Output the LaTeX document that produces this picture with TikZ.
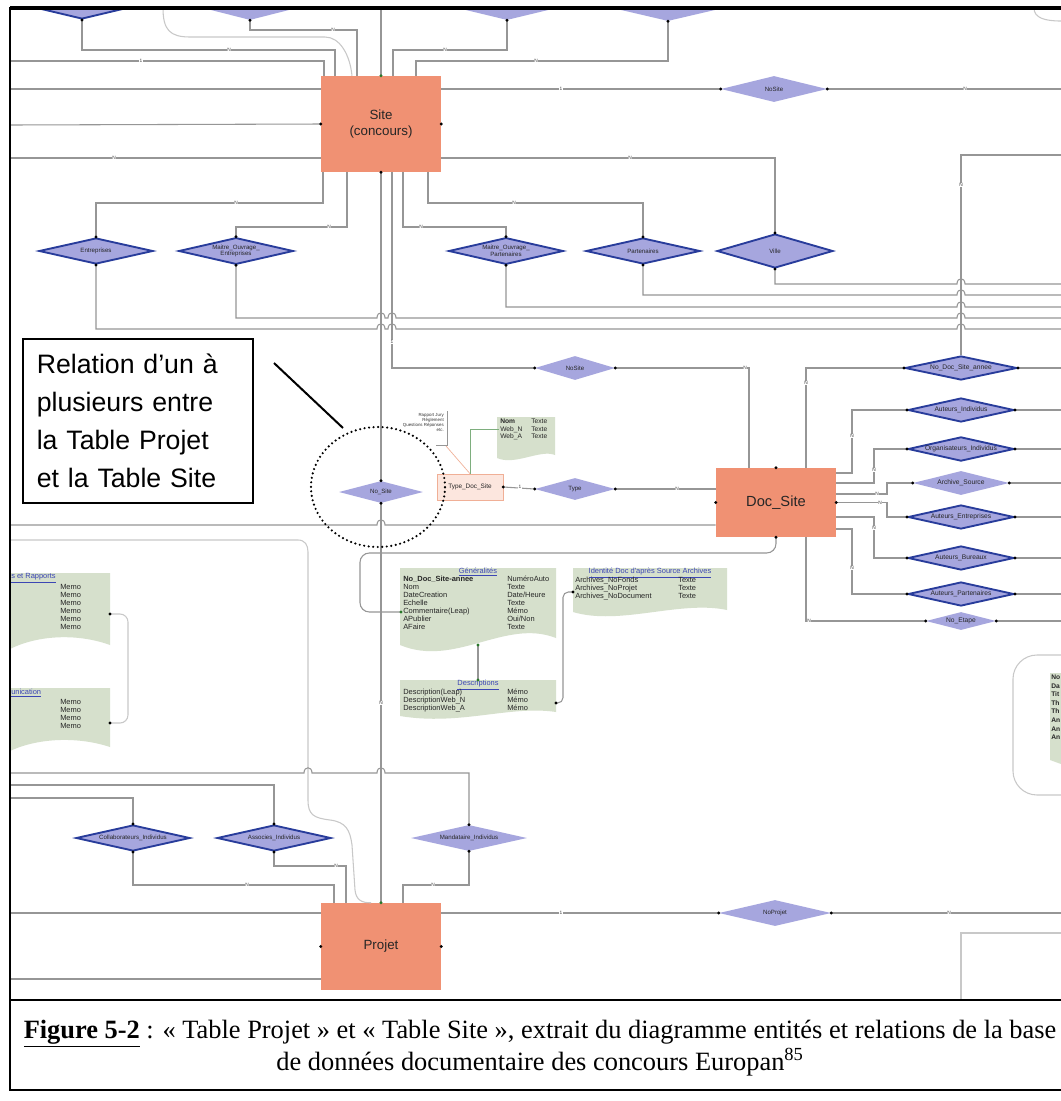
\documentclass[tikz,border=0pt]{standalone}
\usepackage{fontspec}
\usepackage{graphicx}
\setmainfont{Liberation Serif}
\newfontfamily\dsans{Liberation Sans}
\usetikzlibrary{shapes.geometric}
\definecolor{ent}{RGB}{240,145,115}
\definecolor{lav}{RGB}{166,166,222}
\definecolor{dkb}{RGB}{40,60,155}
\definecolor{tabc}{RGB}{214,224,204}
\definecolor{lnc}{RGB}{150,150,150}
\definecolor{grpc}{RGB}{200,200,200}
\definecolor{ttlc}{RGB}{60,70,180}
\definecolor{pinkf}{RGB}{252,230,222}
\definecolor{pinkd}{RGB}{240,175,150}
\definecolor{gdot}{RGB}{40,120,40}
\newcommand\dotat[1]{\fill[black] (#1) circle (1.2pt);}
\newcommand\gdotat[1]{\fill[gdot] (#1) circle (1.2pt);}
\tikzset{
 ln/.style={draw=lnc, line width=0.8pt},
 grpl/.style={draw=grpc, line width=0.8pt},
 lbl/.style={font=\dsans\fontsize{3.6}{4}\selectfont, fill=white, inner sep=0.4pt, text=black!75},
 entity/.style={rectangle, fill=ent, minimum width=90pt, inner sep=0, align=center, text=black!85, font=\dsans\fontsize{10}{12.5}\selectfont},
 rdk/.style={diamond, shape aspect=4, fill=lav, draw=dkb, line width=1.4pt, inner sep=0, align=center, text=black!85, font=\dsans\fontsize{4.6}{5}\selectfont},
 rlt/.style={diamond, shape aspect=4, fill=lav, inner sep=0, align=center, text=black!85, font=\dsans\fontsize{4.6}{5}\selectfont},
 dz/.style 2 args={minimum width=#1pt, minimum height=#2pt},
 jmp/.style 2 args={insert path={-- ({#1-4},#2) .. controls ({#1-4},{#2-7}) and ({#1+4},{#2-7}) .. ({#1+4},#2)}},
 tabt/.style={font=\dsans\fontsize{5.6}{6}\selectfont, inner sep=0, anchor=north west, align=left, text=black!85},
 ttl/.style={font=\dsans\fontsize{5.6}{6}\selectfont, text=ttlc, inner sep=0},
}
\begin{document}
\begin{tikzpicture}[x=0.75pt,y=-0.75pt]
\useasboundingbox (0,0) rectangle (1061,1101);
\fill[white] (0,0) rectangle (1061,1101);

% ---------- top diamonds (cut by frame)
\begin{scope}
\clip (10,8) rectangle (1061,1000);
\node[rdk, dz={93}{22.5}] (t1) at (82,4) {};
\node[rlt, dz={88}{22.5}] (t2) at (250,5) {};
\node[rlt, dz={93}{22.5}] (t3) at (507,5) {};
\node[rlt, dz={96}{22.5}] (t4) at (668,6) {};
\end{scope}

% ---------- entities
\node[entity, minimum height=72pt] (site) at (381,124) {Site\\(concours)};
\node[entity, minimum height=51.75pt, font=\dsans\fontsize{11}{13}\selectfont] (doc) at (776,502.5) {Doc\_Site};
\node[entity, minimum height=65.25pt] (proj) at (381,946.5) {Projet};

% ---------- relation diamonds
\node[rdk, dz={85.5}{19.5}] (entr) at (96,251) {Entreprises};
\node[rdk, dz={86}{20}] (moe) at (236,251) {Maitre\_Ouvrage\_\\Entreprises};
\node[rdk, dz={86}{20}] (mop) at (506,251) {Maitre\_Ouvrage\_\\Partenaires};
\node[rdk, dz={85.5}{19.5}] (part) at (643,251) {Partenaires};
\node[rdk, dz={87}{25.5}] (ville) at (775,251) {Ville};
\node[rlt, dz={79.5}{19.5}] (nosite1) at (774,89) {NoSite};
\node[rlt, dz={60}{18}] (nosite2) at (575,368) {NoSite};
\node[rlt, dz={63}{16.5}] (nos) at (381,492) {No\_Site};
\node[rlt, dz={60}{16.5}] (type) at (575,489) {Type};
\node[rdk, dz={84}{18}, font=\dsans\fontsize{5}{5.5}\selectfont] (ndsa) at (961,368) {No\_Doc\_Site\_annee};
\node[rdk, dz={79.5}{18}, font=\dsans\fontsize{5}{5.5}\selectfont] (aind) at (961,410) {Auteurs\_Individus};
\node[rdk, dz={79.5}{18}, font=\dsans\fontsize{5}{5.5}\selectfont] (oind) at (961,449) {Organisateurs\_Individus};
\node[rlt, dz={72}{18}, font=\dsans\fontsize{5}{5.5}\selectfont] (asrc) at (961,483) {Archive\_Source};
\node[rdk, dz={79.5}{18}, font=\dsans\fontsize{5}{5.5}\selectfont] (aent) at (961,517) {Auteurs\_Entreprises};
\node[rdk, dz={79.5}{18}, font=\dsans\fontsize{5}{5.5}\selectfont] (abur) at (961,558) {Auteurs\_Bureaux};
\node[rdk, dz={79.5}{18}, font=\dsans\fontsize{5}{5.5}\selectfont] (apar) at (961,594) {Auteurs\_Partenaires};
\node[rlt, dz={52.5}{13.5}, font=\dsans\fontsize{5}{5.5}\selectfont] (neta) at (961,621) {No\_Etape};
\node[rdk, dz={85.5}{19.5}] (coll) at (133,838) {Collaborateurs\_Individus};
\node[rdk, dz={85.5}{19.5}] (asso) at (274,838) {Associes\_Individus};
\node[rlt, dz={87}{19.5}] (mand) at (469,838) {Mandataire\_Individus};
\node[rlt, dz={84}{19.5}] (nproj) at (775,913) {NoProjet};
\node[draw=pinkd, fill=pinkf, line width=0.5pt, minimum width=49.5pt, minimum height=19.5pt, inner sep=0, font=\dsans\fontsize{4.8}{5}\selectfont, text=black!85] (tds) at (470,487) {Type\_Doc\_Site};

% ---------- connectors above Site
\draw[ln] (t1.south) -- (82,50) -- (335,50) -- (335,0 |- site.north);
\draw[ln] (t2.south) -- (250,30) -- (357,30) -- (357,0 |- site.north);
\draw[ln] (t3.south) -- (507,50) -- (393,50) -- (393,0 |- site.north);
\draw[ln] (t4.south) -- (668,61) -- (416,61) -- (416,0 |- site.north);
\coordinate (e61) at (10,61);
\draw[ln] (e61) -- (324,61) -- (324,0 |- site.north);
\coordinate (c0) at (163,8);
\draw[grpl] (c0) .. controls (163,30) and (170,37) .. (190,37) -- (325,37) .. controls (340,37) and (350,55) .. (352,0 |- site.north);
\coordinate (topv) at (381,8);
\draw[ln] (topv) -- (site.north);
\node[lbl] at (229,50) {N}; \node[lbl] at (333,30) {N};
\node[lbl] at (445,50) {N}; \node[lbl] at (536,61) {N};
\node[lbl] at (141,61) {1};

% left / right of Site
\coordinate (e89) at (10,89); \coordinate (e125) at (10,125); \coordinate (e158) at (10,158);
\draw[ln] (e89) -- (site.west |- 0,89);
\draw[ln] (e125) -- (site.west);
\draw[ln] (e158) -- (site.west |- 0,158);
\node[lbl] at (114,158) {N};
\coordinate (r89) at (1061,89); \coordinate (r155) at (1061,155);
\draw[ln] (site.east |- 0,89) -- (nosite1.west);
\draw[ln] (nosite1.east) -- (r89);
\node[lbl] at (561,89) {1}; \node[lbl] at (965,89) {N};
\draw[ln] (site.east |- 0,158) -- (775,158) -- (ville.north);
\node[lbl] at (630,158) {N};
\draw[ln] (r155) -- (961,155) -- (ndsa.north);
\node[lbl] at (961,185) {N};

% below Site
\draw[ln] (323,0 |- site.south) -- (323,203) -- (96,203) -- (entr.north);
\draw[ln] (347,0 |- site.south) -- (347,227) -- (236,227) -- (moe.north);
\draw[ln] (403,0 |- site.south) -- (403,227) -- (506,227) -- (mop.north);
\draw[ln] (428,0 |- site.south) -- (428,203) -- (643,203) -- (part.north);
\node[lbl] at (236,203) {N}; \node[lbl] at (329,227) {N};
\node[lbl] at (421,227) {N}; \node[lbl] at (514,203) {N};
\draw[ln] (site.south) -- (nos.north);
\draw[ln] (392,0 |- site.south) -- (392,368) -- (nosite2.west);
\node[lbl] at (392,342) {1};
\draw[ln] (nosite2.east) -- (749,368) -- (749,0 |- doc.north);
\node[lbl] at (745,368) {N};

% horizontal bundle with jumps
\coordinate (r284) at (1061,284); \coordinate (r295) at (1061,295); \coordinate (r307) at (1061,307);
\coordinate (r318) at (1061,318); \coordinate (r329) at (1061,329);
\draw[ln] (entr.south) -- (96,329) [jmp={381}{329}] [jmp={392}{329}] [jmp={961}{329}] -- (r329);
\draw[ln] (moe.south) -- (236,318) [jmp={381}{318}] [jmp={392}{318}] [jmp={961}{318}] -- (r318);
\draw[ln] (mop.south) -- (506,307) [jmp={961}{307}] -- (r307);
\draw[ln] (part.south) -- (643,295) [jmp={961}{295}] -- (r295);
\draw[ln] (ville.south) -- (775,284) [jmp={961}{284}] -- (r284);

% Doc_Site connectors
\draw[ln] (doc.east |- 0,473) -- (852,473) -- (852,410) -- (aind.west);
\draw[ln] (doc.east |- 0,483) -- (874,483) -- (874,449) -- (oind.west);
\draw[ln] (doc.east |- 0,494) -- (887,494) -- (887,483) -- (asrc.west);
\draw[ln] (doc.east) -- (887,502.5) -- (887,517) -- (aent.west);
\draw[ln] (doc.east |- 0,517) -- (874,517) -- (874,558) -- (abur.west);
\draw[ln] (doc.east |- 0,529) -- (852,529) -- (852,594) -- (apar.west);
\draw[ln] (806,0 |- doc.north) -- (806,368) -- (ndsa.west);
\draw[ln] (806,0 |- doc.south) -- (806,621) -- (neta.west);
\node[lbl] at (852,436) {N}; \node[lbl] at (874,470) {N}; \node[lbl] at (877,494) {N};
\node[lbl] at (880,503) {N}; \node[lbl] at (874,528) {N}; \node[lbl] at (852,568) {N};
\node[lbl] at (806,383) {N}; \node[lbl] at (809,621) {N};
\foreach \n/\y in {ndsa/368,aind/410,oind/449,asrc/483,aent/517,abur/558,apar/594,neta/621}{
  \draw[ln] (\n.east) -- (1061,\y);
  \dotat{\n.west} \dotat{\n.east}
}
\draw[ln, rounded corners=7pt] (doc.south) -- (776,553) -- (360,553) -- (360,612) -- (401,612);
\coordinate (e525) at (10,525);
\draw[ln] (e525) [jmp={381}{525}] -- (doc.west |- 0,525);
\draw[ln] (tds.east) -- (type.west);
\draw[ln] (type.east) -- (doc.west |- type.east);
\node[lbl] at (520,487) {1}; \node[lbl] at (677,489) {N};

% Rapport Jury list and Nom table
\node[font=\dsans\fontsize{3.3}{3.9}\selectfont, align=right, anchor=north east, inner sep=0, text=black!80] (rj) at (444,413) {Rapport Jury\\Règlement\\Questions Réponses\\etc.};
\draw[ln, line width=0.4pt] (447,411) -- (447,445) -- (436,445);
\draw[draw=pinkd, line width=0.5pt] (446,446) -- (tds.north);
\fill[tabc] (497,417) -- (555,417) -- (555,455) .. controls (540,449) and (515,466) .. (497,458) -- cycle;
\node[tabt, font=\dsans\fontsize{5}{5.6}\selectfont] (nomc1) at (500,419) {\textbf{Nom}\\Web\_N\\Web\_A};
\node[tabt, font=\dsans\fontsize{5}{5.6}\selectfont] (nomc2) at (531,419) {Texte\\Texte\\Texte};
\draw[draw=gdot!60, line width=0.5pt] (tds.north) -- (470,429) -- (499,429);

% Generalites / Descriptions / Identite tables
\fill[tabc] (400,568) -- (556,568) -- (556,638) .. controls (505,618) and (455,668) .. (400,645) -- cycle;
\node[ttl] (gent) at (478,572) {\underline{Généralités}};
\node[tabt] (genc1) at (403,576) {\textbf{No\_Doc\_Site-annee}\\Nom\\DateCreation\\Echelle\\Commentaire(Leap)\\APublier\\AFaire};
\node[tabt] (genc2) at (507,576) {NuméroAuto\\Texte\\Date/Heure\\Texte\\Mémo\\Oui/Non\\Texte};
\fill[tabc] (400,680) -- (556,680) -- (556,712) .. controls (510,705) and (460,726) .. (400,716) -- cycle;
\node[ttl] (dest) at (478,685) {\underline{Descriptions}};
\node[tabt] (desc1) at (403,689) {Description(Leap)\\DescriptionWeb\_N\\DescriptionWeb\_A};
\node[tabt] (desc2) at (507,689) {Mémo\\Mémo\\Mémo};
\fill[tabc] (573,568) -- (727,568) -- (727,610) .. controls (680,600) and (620,626) .. (573,612) -- cycle;
\node[ttl] (idt) at (650,573) {\underline{Identité Doc d'après Source Archives}};
\node[tabt] (idc1) at (575,577) {Archives\_NoFonds\\Archives\_NoProjet\\Archives\_NoDocument};
\node[tabt] (idc2) at (678,577) {Texte\\Texte\\Texte};
\coordinate (genb) at (478,645); \coordinate (dest0) at (478,680);
\draw[ln] (genb) -- (dest0);
\coordinate (descr) at (556,703); \coordinate (idl) at (573,592);
\draw[ln, rounded corners=4pt] (descr) -- (563,703) -- (563,592) -- (idl);

% left tables
\fill[tabc] (10,573) -- (110,573) -- (110,645) .. controls (80,634) and (40,634) .. (10,649) -- cycle;
\node[ttl, anchor=west] (lt1) at (11,578) {\underline{s et Rapports}};
\node[tabt] (lt1c) at (60,584) {Memo\\Memo\\Memo\\Memo\\Memo\\Memo};
\fill[tabc] (10,688) -- (110,688) -- (110,747) .. controls (80,737) and (40,737) .. (10,751) -- cycle;
\node[ttl, anchor=west] (lt2) at (11,693) {\underline{unication}};
\node[tabt] (lt2c) at (60,699) {Memo\\Memo\\Memo\\Memo};
\coordinate (lt1r) at (110,614); \coordinate (lt2r) at (110,723);
\draw[grpl, rounded corners=6pt] (lt1r) -- (128,614) -- (128,723) -- (lt2r);

% right group box and table fragment
\draw[grpl, rounded corners=18pt] (1061,655) -- (1013,655) -- (1013,795) -- (1061,795);
\fill[tabc] (1050,673) -- (1061,673) -- (1061,764) -- (1050,760) -- cycle;
\node[tabt, font=\dsans\bfseries\fontsize{5}{6.4}\selectfont] (rtf) at (1051,675) {No\\Da\\Tit\\Th\\Th\\An\\An\\An};
\coordinate (tr0) at (1034,8);
\draw[grpl] (tr0) .. controls (1034,18) and (1045,21) .. (1061,21);

% left group line down to Projet
\coordinate (e540) at (10,540);
\draw[grpl] (e540) -- (298,540) .. controls (305,540) and (308,545) .. (308,552) -- (308,800) .. controls (308,815) and (314,818) .. (330,820) .. controls (346,822) and (350,830) .. (352,845) -- (355,890) .. controls (356,900) and (362,903) .. (371,0 |- proj.north);

% lower connectors
\coordinate (e773) at (10,773); \coordinate (e785) at (10,785); \coordinate (e798) at (10,798);
\draw[ln] (e773) [jmp={308}{773}] [jmp={381}{773}] -- (469,773) -- (mand.north);
\draw[ln] (e785) -- (274,785) -- (asso.north);
\draw[ln] (e798) -- (133,798) -- (coll.north);
\draw[ln] (coll.south) -- (133,885) -- (334,885) -- (334,0 |- proj.north);
\draw[ln] (asso.south) -- (274,866) -- (346,866) -- (346,0 |- proj.north);
\draw[ln] (mand.south) -- (469,885) -- (403,885) -- (403,0 |- proj.north);
\node[lbl] at (247,885) {N}; \node[lbl] at (336,866) {N}; \node[lbl] at (433,885) {N};
\draw[ln] (nos.south) -- (proj.north);
\node[lbl] at (381,703) {N};
\coordinate (e913) at (10,913); \coordinate (e979) at (10,979); \coordinate (r913) at (1061,913);
\draw[ln] (e913) -- (proj.west |- 0,913);
\draw[ln] (e979) -- (proj.west |- 0,979);
\draw[ln] (proj.east |- 0,913) -- (nproj.west);
\draw[ln] (nproj.east) -- (r913);
\node[lbl] at (561,913) {1}; \node[lbl] at (949,913) {N};
\coordinate (br0) at (961,1000);
\draw[grpl] (br0) -- (961,933) -- (1061,933);

% dots
\gdotat{site.north} \dotat{site.south} \dotat{site.west} \dotat{site.east}
\dotat{doc.north} \dotat{doc.south} \dotat{doc.west} \dotat{doc.east}
\gdotat{proj.north} \dotat{proj.west} \dotat{proj.east}
\foreach \n in {entr,moe,mop,part,ville,coll,asso,mand,nos}{\dotat{\n.north} \dotat{\n.south}}
\foreach \n in {nosite1,nosite2,type,nproj}{\dotat{\n.west} \dotat{\n.east}}
\dotat{tds.east} \gdotat{401,612} \gdotat{genb} \gdotat{dest0} \dotat{descr} \dotat{idl}
\dotat{lt1r} \dotat{lt2r} \dotat{t1.south} \dotat{t2.south} \dotat{t3.south} \dotat{t4.south}

% annotation
\node[draw, line width=1.2pt, anchor=north west, text width=151.5pt, minimum height=123pt, inner xsep=10.5pt, align=left, font=\dsans\fontsize{20}{28.5}\selectfont] (ann) at (22,338) {Relation d’un à\\plusieurs entre\\la Table Projet\\et la Table Site};
\coordinate (a1) at (274,363); \coordinate (a2) at (343,428);
\draw[line width=1.5pt] (a1) -- (a2);
\node[ellipse, draw, minimum width=100.5pt, minimum height=90pt, line width=1.8pt, dash pattern=on 0pt off 3.4pt, line cap=round] (ell) at (378,487) {};

% frame and caption
\draw[line width=2.4pt] (10,8) -- (1061,8);
\draw[line width=1.5pt] (10,7) -- (10,1091);
\draw[line width=1.5pt] (10,1000) -- (1061,1000);
\draw[line width=1.2pt] (10,1090) -- (1061,1090);
\node[font=\fontsize{19.8}{20.3}\selectfont, align=center, inner sep=0] (cap) at (540,1048) {\underline{\textbf{Figure 5-2}} : « Table Projet » et « Table Site », extrait du diagramme entités et relations de la base\\de données documentaire des concours Europan\textsuperscript{85}};
\end{tikzpicture}
\end{document}
